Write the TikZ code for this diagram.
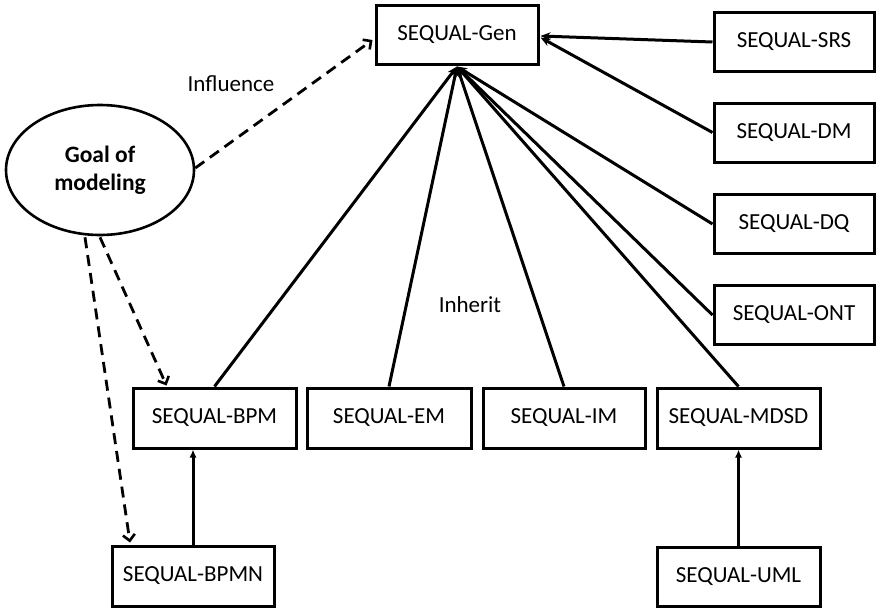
\documentclass[tikz,border=0pt]{standalone}
\usepackage{fontspec}
\setmainfont{Carlito}
\usetikzlibrary{arrows.meta,shapes.geometric,calc}
\begin{document}
\begin{tikzpicture}[x=1pt,y=-1pt,
  model/.style={draw,line width=3pt,rectangle,minimum width=162pt,minimum height=59pt,inner sep=0pt,
    font=\fontsize{23}{27}\selectfont},
  inherit/.style={line width=3pt,-{Stealth[length=10pt,width=8pt]}},
  refine/.style={line width=3pt,-{Latex[length=8pt,width=7pt]}},
  influence/.style={line width=2.8pt,dash pattern=on 11pt off 7pt,-{Straight Barb[length=6pt,width=12pt,line width=2.6pt]}},
  lbl/.style={font=\fontsize{23}{27}\selectfont}]
\useasboundingbox (0,0) rectangle (876,608);

% core framework
\node[model] (gen) at (457,34.5) {SEQUAL-Gen};

% specialisations on the right
\node[model,minimum width=160pt] (srs)  at (794,42)    {SEQUAL-SRS};
\node[model,minimum width=160pt] (dm)   at (794,132.5) {SEQUAL-DM};
\node[model,minimum width=160pt] (dq)   at (794,224)   {SEQUAL-DQ};
\node[model,minimum width=160pt] (ont)  at (794,315)   {SEQUAL-ONT};

% specialisations below
\node[model,minimum width=163pt,minimum height=60pt] (bpm)  at (214.5,418) {SEQUAL-BPM};
\node[model,minimum width=164pt,minimum height=60pt] (em)   at (389,418)   {SEQUAL-EM};
\node[model,minimum width=162pt,minimum height=60pt] (im)   at (564,418)   {SEQUAL-IM};
\node[model,minimum width=163pt,minimum height=60pt] (mdsd) at (738.5,418) {SEQUAL-MDSD};

% language-specific frameworks
\node[model,minimum width=162pt,minimum height=60pt] (bpmn) at (193,576)   {SEQUAL-BPMN};
\node[model,minimum width=163pt,minimum height=59pt] (uml)  at (738.5,576.5) {SEQUAL-UML};

% goal of modeling
\node[draw,ellipse,line width=2.6pt,minimum width=188pt,minimum height=130pt,inner sep=0pt,
  align=center,font=\bfseries\fontsize{23.5}{28}\selectfont] (goal) at (100,170) {Goal of\\modeling};

% labels
\node[lbl] (inflbl) at (231,84) {Influence};
\node[lbl] (inhlbl) at (470,305) {Inherit};

% inheritance links
\draw[inherit] (srs.west) -- ($(gen.east)+(1,1.5)$);
\draw[inherit] (dm.west)  -- ($(gen.east)+(1,3)$);
\draw[inherit] (dq.west)  -- ($(gen.south)+(0,1)$);
\draw[inherit] (ont.west) -- ($(gen.south)+(0,1)$);
\draw[inherit] (bpm.north)  -- ($(gen.south)+(0,1)$);
\draw[inherit] (em.north)   -- ($(gen.south)+(0,1)$);
\draw[inherit] (im.north)   -- ($(gen.south)+(0,1)$);
\draw[inherit] (mdsd.north) -- ($(gen.south)+(0,1)$);

\draw[refine] (bpmn.north) -- (bpmn.north |- bpm.south);
\draw[refine] (uml.north)  -- (mdsd.south);

% influence links
\draw[influence] ($(goal.east)+(0,-2)$) -- ($(gen.west)+(-2,5.5)$);
\draw[influence] ($(goal.south)+(0,1)$) -- ($(bpm.north)+(-48,-1)$);
\draw[influence] ($(goal.south)+(-15,1)$) -- ($(bpmn.north)+(-63,-2)$);
\end{tikzpicture}
\end{document}
